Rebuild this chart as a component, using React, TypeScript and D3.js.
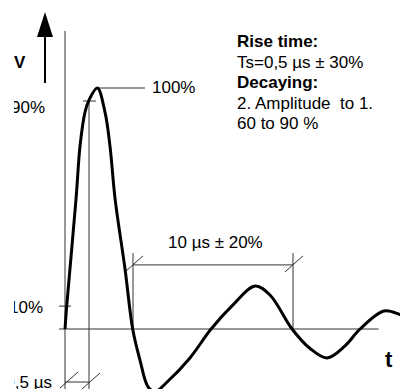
import * as d3 from "d3";

// Picture size
const width = 400;
const height = 389;

// Damped oscillation (time in schematic units, level as share of peak)
const pulseTime = [0, 0.1, 0.69, 0.94, 1.25, 1.5, 2.02, 2.5, 2.81, 3.13, 3.75, 4.23, 4.69, 5.19, 5.63, 6.38, 7.81, 9.13, 10.5, 11.88, 12.81, 14.19, 15.3, 16.38, 17.5, 18.44, 19.94, 20.94, 21.6];
const pulseLevel = [0, 0.09, 0.54, 0.76, 0.9, 0.95, 1, 0.9, 0.76, 0.54, 0.25, 0, -0.13, -0.24, -0.26, -0.22, -0.12, 0, 0.1, 0.178, 0.141, 0, -0.08, -0.12, -0.07, 0, 0.075, 0.06, 0.04];

// Marker levels
const levelLabels = ["10%", "90%", "100%"];
const levelValues = [0.095, 0.946, 1];

// Marker times
const riseStart = 0;
const riseEnd = 1.5;
const periodStart = 4.25;
const periodEnd = 14.25;
const peakTime = 2.02;

// Dimension line levels
const periodLineLevel = 0.266;
const periodTopLevel = 0.315;
const riseDimLevel = -0.22;
const axisTopLevel = 1.237;

const noteLines = ["Rise time:", "Ts=0,5 µs ± 30%", "Decaying:", "2. Amplitude  to 1.", "60 to 90 %"];
const noteBold = [true, false, true, false, false];

const x = d3.scaleLinear().domain([0, 10]).range([65, 225]);
const y = d3.scaleLinear().domain([0, 1]).range([329, 88]);

const line = d3
  .line<number>()
  .x((d, i) => x(pulseTime[i]))
  .y((d) => y(d))
  .curve(d3.curveCatmullRom.alpha(0.5));

const thin = { stroke: "#333", strokeWidth: 1, fill: "none" };
const font = "'Liberation Sans', Arial, sans-serif";

function Slash({ cx, cy }: { cx: number; cy: number }) {
  return <line x1={cx - 8} y1={cy + 7} x2={cx + 10} y2={cy - 9} {...thin} />;
}

export default function App() {
  const [l10, l90, l100] = levelValues;
  return (
    <div style={{ position: "absolute", left: 0, top: 0 }}>
      <svg width={width} height={height} style={{ display: "block", background: "#fff" }}>
        <defs>
          <clipPath id="leftClip">
            <rect x={14} y={0} width={width} height={height} />
          </clipPath>
        </defs>

        {/* arrow */}
        <line x1={45} y1={83} x2={45} y2={32} stroke="#000" strokeWidth={2} />
        <path d="M45,12 L53,37 L37,37 Z" fill="#000" />

        {/* vertical axis and zero line */}
        <line x1={x(riseStart)} y1={y(axisTopLevel)} x2={x(riseStart)} y2={height} {...thin} />
        <line x1={x(-0.375)} y1={y(0)} x2={x(19.6)} y2={y(0)} {...thin} />

        {/* 10% and 90% ticks */}
        <line x1={x(-0.375)} y1={y(l10)} x2={x(0.375)} y2={y(l10)} {...thin} />
        <line x1={x(1.125)} y1={y(l90)} x2={x(1.94)} y2={y(l90)} {...thin} />
        <line x1={x(riseEnd)} y1={y(l90)} x2={x(riseEnd)} y2={height} {...thin} />

        {/* 100% leader */}
        <line x1={x(peakTime)} y1={y(l100)} x2={x(5)} y2={y(l100)} {...thin} />

        {/* period dimension */}
        <line x1={x(periodStart)} y1={y(periodTopLevel)} x2={x(periodStart)} y2={y(0)} {...thin} />
        <line x1={x(periodEnd)} y1={y(periodTopLevel)} x2={x(periodEnd)} y2={y(0)} {...thin} />
        <line x1={x(periodStart)} y1={y(periodLineLevel)} x2={x(periodEnd)} y2={y(periodLineLevel)} {...thin} />
        <Slash cx={x(periodStart)} cy={y(periodLineLevel)} />
        <Slash cx={x(periodEnd)} cy={y(periodLineLevel)} />

        {/* rise dimension */}
        <line x1={x(riseStart)} y1={y(riseDimLevel)} x2={x(riseEnd)} y2={y(riseDimLevel)} {...thin} />
        <Slash cx={x(riseStart) + 3} cy={y(riseDimLevel) - 1} />
        <Slash cx={x(riseEnd) + 1} cy={y(riseDimLevel)} />

        {/* pulse */}
        <path d={line(pulseLevel) ?? ""} fill="none" stroke="#000" strokeWidth={3} strokeLinejoin="round" />

        {/* labels */}
        <g fontFamily={font} fill="#000" fontSize={17}>
          <g clipPath="url(#leftClip)">
            <text x={14} y={68} fontWeight="bold">V</text>
            <text x={45} y={113} textAnchor="end">{levelLabels[1]}</text>
            <text x={43} y={313} textAnchor="end">{levelLabels[0]}</text>
            <text x={52} y={388} textAnchor="end">0,5 µs</text>
          </g>
          <text x={152} y={93}>{levelLabels[2]}</text>
          <text x={168} y={248}>10 µs ± 20%</text>
          <text x={385} y={367} fontWeight="bold" fontSize={22}>t</text>
          {noteLines.map((s, i) => (
            <text
              key={i}
              x={237}
              y={47 + i * 20.5}
              fontWeight={noteBold[i] ? "bold" : "normal"}
              style={{ whiteSpace: "pre" }}
            >
              {s}
            </text>
          ))}
        </g>
      </svg>
    </div>
  );
}
